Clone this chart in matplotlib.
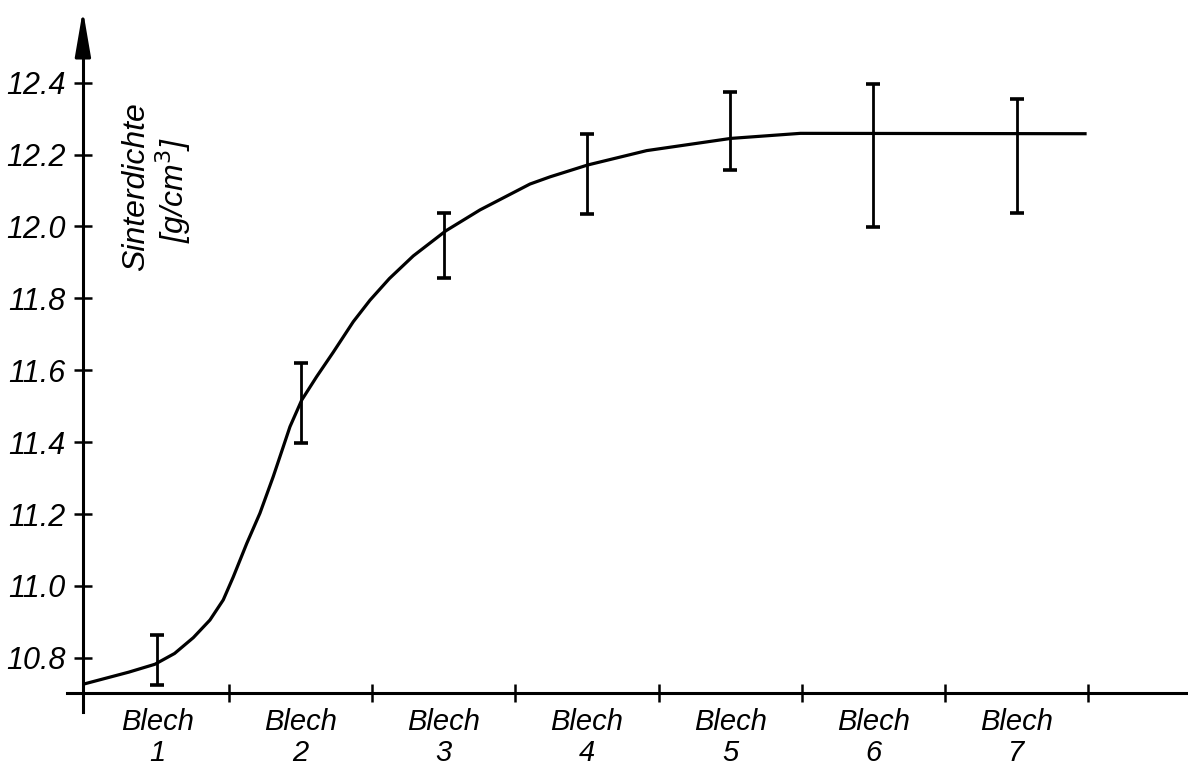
import matplotlib
matplotlib.use("Agg")
import matplotlib.pyplot as plt
from matplotlib.ticker import FixedLocator, NullFormatter

plt.rcParams['font.family'] = ['Liberation Sans Narrow', 'Liberation Sans', 'DejaVu Sans']

# ---- data ----
categories = ["Blech\n1", "Blech\n2", "Blech\n3", "Blech\n4", "Blech\n5", "Blech\n6", "Blech\n7"]
cat_pos = [0.5, 1.5, 2.5, 3.5, 4.5, 5.5, 6.5]
err_low = [10.724, 11.397, 11.857, 12.036, 12.158, 11.998, 12.037]
err_high = [10.863, 11.621, 12.038, 12.257, 12.375, 12.396, 12.354]

curve_x = [-0.013, 0.300, 0.483, 0.620, 0.751, 0.867, 0.960, 1.030, 1.124, 1.216, 1.309,
           1.379, 1.426, 1.508, 1.612, 1.728, 1.868, 1.985, 2.120, 2.287, 2.515,
           2.753, 3.102, 3.242, 3.505, 3.917, 4.506, 4.990, 6.978]
curve_y = [10.727, 10.760, 10.782, 10.812, 10.856, 10.905, 10.961, 11.025, 11.118, 11.202, 11.304,
           11.387, 11.443, 11.517, 11.582, 11.650, 11.735, 11.795, 11.855, 11.918, 11.988,
           12.046, 12.118, 12.138, 12.171, 12.211, 12.245, 12.259, 12.258]

y_ticks = [10.8, 11.0, 11.2, 11.4, 11.6, 11.8, 12.0, 12.2, 12.4]
y_ticklabels = ["10.8", "11.0", "11.2", "11.4", "11.6", "11.8", "12.0", "12.2", "12.4"]
x_ticks = [1, 2, 3, 4, 5, 6, 7]

# ---- layout ----
fig = plt.figure(figsize=(11.88, 7.71), dpi=100)
ax = fig.add_axes([0, 0, 1, 1])
ax.set_xlim(-0.599, 7.697)
ax.set_ylim(10.485, 12.630)
ax.patch.set_alpha(0)

y_axis_x = -0.02
x_axis_y = 10.702

for s in ['top', 'right']:
    ax.spines[s].set_visible(False)
ax.spines['left'].set_position(('data', y_axis_x))
ax.spines['bottom'].set_position(('data', x_axis_y))
ax.spines['left'].set_bounds(10.649, 12.56)
ax.spines['bottom'].set_bounds(-0.13, 7.697)
for s in ['left', 'bottom']:
    ax.spines[s].set_linewidth(2.2)

ax.yaxis.set_major_locator(FixedLocator(y_ticks))
ax.set_yticklabels(y_ticklabels)
ax.tick_params(axis='y', direction='inout', length=13, width=1.8, pad=6,
               labelsize=22)
for lab in ax.get_yticklabels():
    lab.set_style('italic')

ax.xaxis.set_major_locator(FixedLocator(x_ticks))
ax.xaxis.set_major_formatter(NullFormatter())
ax.xaxis.set_minor_locator(FixedLocator(cat_pos))
ax.set_xticklabels(categories, minor=True)
ax.tick_params(axis='x', which='major', direction='inout', length=13, width=1.8)
ax.tick_params(axis='x', which='minor', length=0, pad=11, labelsize=21)
for lab in ax.get_xticklabels(minor=True):
    lab.set_style('italic')
    lab.set_linespacing(1.12)

# arrow on y axis
ax.annotate('', xy=(y_axis_x, 12.602), xytext=(y_axis_x, 12.50),
            arrowprops=dict(arrowstyle='-|>,head_length=1.4,head_width=0.24',
                            mutation_scale=20, lw=2.2, color='black',
                            shrinkA=0, shrinkB=0))

# curve
ax.plot(curve_x, curve_y, color='black', lw=2.3, solid_joinstyle='round', zorder=3)

# error bars
mid = [(lo + hi) / 2 for lo, hi in zip(err_low, err_high)]
half = [(hi - lo) / 2 for lo, hi in zip(err_low, err_high)]
ax.errorbar(cat_pos, mid, yerr=half, fmt='none', ecolor='black', elinewidth=2.0,
            capsize=5, capthick=2.6, zorder=4)

# y label
ax.text(0.35, 12.11, "Sinterdichte", rotation=90, ha='center', va='center',
        fontsize=23, style='italic')
ax.text(0.61, 12.10, "[g/cm$^3$]", rotation=90, ha='center', va='center',
        fontsize=23, style='italic')

fig.savefig("out.png", dpi=100)
